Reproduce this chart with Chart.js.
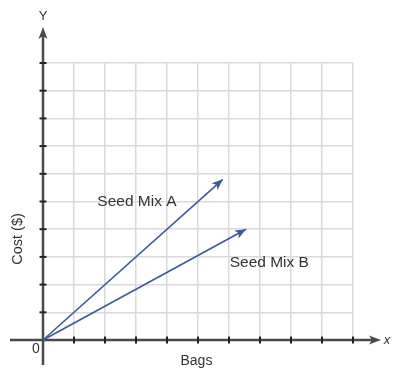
<!DOCTYPE html>
<html>
<head>
<meta charset="utf-8">
<script src="https://cdn.jsdelivr.net/npm/chart.js@4"></script>
<style>
html,body{margin:0;padding:0;background:#fff;}
#wrap{width:406px;height:378px;position:relative;}
</style>
</head>
<body>
<div id="wrap"><canvas id="c" width="406" height="378"></canvas></div>
<script>
// Data
const seriesNames = ["Seed Mix A", "Seed Mix B"];
const bagsA = [0, 5.8];
const costA = [0, 5.8];
const bagsB = [0, 6.55];
const costB = [0, 4.0];
const xTicks = [0,1,2,3,4,5,6,7,8,9,10];
const yTicks = [0,1,2,3,4,5,6,7,8,9,10];
const axisTitles = {x: "Bags", y: "Cost ($)"};

const lineColor = "#3c5a9a";
const axisColor = "#4a4a4a";
const textColor = "#333333";
const font = "'Liberation Sans', Arial, Helvetica, sans-serif";

function toPts(xs, ys){ return xs.map((x,i)=>({x:x, y:ys[i]})); }

function arrowHead(ctx, x1, y1, x2, y2, len, half, color){
  const a = Math.atan2(y2-y1, x2-x1);
  ctx.save();
  ctx.translate(x2, y2);
  ctx.rotate(a);
  ctx.beginPath();
  ctx.moveTo(0,0);
  ctx.lineTo(-len, -half);
  ctx.lineTo(-len*0.75, 0);
  ctx.lineTo(-len, half);
  ctx.closePath();
  ctx.fillStyle = color;
  ctx.fill();
  ctx.restore();
}

const axesPlugin = {
  id: 'axesPlugin',
  beforeDatasetsDraw(chart){
    const ctx = chart.ctx;
    const xs = chart.scales.x, ys = chart.scales.y;
    const x0 = xs.getPixelForValue(0), y0 = ys.getPixelForValue(0);
    const area = chart.chartArea;
    ctx.save();
    ctx.strokeStyle = axisColor;
    ctx.lineWidth = 2.5;
    // x axis
    ctx.beginPath();
    ctx.moveTo(10, y0);
    ctx.lineTo(374, y0);
    ctx.stroke();
    // y axis
    ctx.beginPath();
    ctx.moveTo(x0, 365);
    ctx.lineTo(x0, 34);
    ctx.stroke();
    arrowHead(ctx, 10, y0, 381, y0, 12, 4.5, axisColor);
    arrowHead(ctx, x0, 365, x0, 27, 12, 4.5, axisColor);
    // tick marks
    ctx.strokeStyle = "#222";
    ctx.lineWidth = 2;
    xTicks.forEach(v=>{ if(v===0) return; const px = xs.getPixelForValue(v);
      ctx.beginPath(); ctx.moveTo(px, y0-3.5); ctx.lineTo(px, y0+3.5); ctx.stroke(); });
    yTicks.forEach(v=>{ if(v===0) return; const py = ys.getPixelForValue(v);
      ctx.beginPath(); ctx.moveTo(x0-3.5, py); ctx.lineTo(x0+3.5, py); ctx.stroke(); });
    ctx.restore();
  },
  afterDatasetsDraw(chart){
    const ctx = chart.ctx;
    const xs = chart.scales.x, ys = chart.scales.y;
    // arrowheads on series lines
    chart.data.datasets.forEach(ds=>{
      const d = ds.data; const n = d.length;
      const p1 = d[n-2], p2 = d[n-1];
      arrowHead(ctx, xs.getPixelForValue(p1.x), ys.getPixelForValue(p1.y),
                xs.getPixelForValue(p2.x), ys.getPixelForValue(p2.y), 11, 4.5, ds.borderColor);
    });
    ctx.save();
    ctx.fillStyle = textColor;
    ctx.textAlign = 'center';
    ctx.textBaseline = 'middle';
    ctx.font = "15.5px " + font;
    ctx.fillText(seriesNames[0], xs.getPixelForValue(3.03), ys.getPixelForValue(5.0));
    ctx.fillText(seriesNames[1], xs.getPixelForValue(7.3), ys.getPixelForValue(2.8));
    ctx.font = "14px " + font;
    ctx.fillText(axisTitles.x, xs.getPixelForValue(4.95), 361);
    ctx.fillText("0", 36, 349);
    ctx.font = "13px " + font;
    ctx.fillText("Y", xs.getPixelForValue(0), 16);
    ctx.font = "italic 13px " + font;
    ctx.fillText("x", 387, ys.getPixelForValue(0));
    ctx.translate(18, 239);
    ctx.rotate(-Math.PI/2);
    ctx.font = "14.5px " + font;
    ctx.fillText(axisTitles.y, 0, 0);
    ctx.restore();
  }
};

new Chart(document.getElementById('c'), {
  type: 'scatter',
  data: {
    datasets: [
      {label: seriesNames[0], data: toPts(bagsA, costA), showLine: true, borderColor: lineColor, borderWidth: 1.6, pointRadius: 0, clip: false, fill: false},
      {label: seriesNames[1], data: toPts(bagsB, costB), showLine: true, borderColor: lineColor, borderWidth: 1.6, pointRadius: 0, clip: false, fill: false}
    ]
  },
  options: {
    responsive: false,
    animation: false,
    devicePixelRatio: 1,
    layout: {padding: {left: 43, top: 63, right: 53, bottom: 38}},
    plugins: {legend: {display: false}, tooltip: {enabled: false}},
    scales: {
      x: {type: 'linear', min: 0, max: 10,
          afterBuildTicks: s => { s.ticks = xTicks.map(v=>({value:v})); },
          ticks: {display: false},
          grid: {color: '#d9d9d9', lineWidth: 1.5, drawTicks: false},
          border: {display: false}},
      y: {type: 'linear', min: 0, max: 10,
          afterBuildTicks: s => { s.ticks = yTicks.map(v=>({value:v})); },
          ticks: {display: false},
          grid: {color: '#d9d9d9', lineWidth: 1.5, drawTicks: false},
          border: {display: false}}
    }
  },
  plugins: [axesPlugin]
});
</script>
</body>
</html>
